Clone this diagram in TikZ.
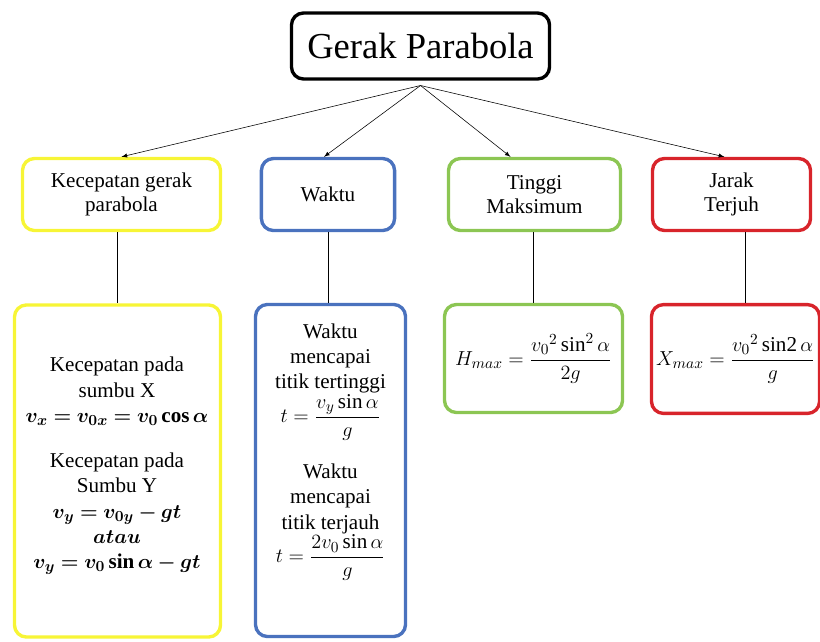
\documentclass[tikz,border=0pt]{standalone}
\usepackage{amsmath}
\usepackage{fontspec}
\setmainfont{Liberation Serif}
\usepackage{bm}
\definecolor{kuning}{HTML}{F7F536}
\definecolor{biru}{HTML}{4A72BE}
\definecolor{hijau}{HTML}{8CC653}
\definecolor{merah}{HTML}{D8242B}
\begin{document}
\begin{tikzpicture}[>=latex, x=0.025cm, y=-0.025cm,
  kotak/.style={draw, line width=2.4pt, rounded corners=0.3cm, align=center, font=\fontsize{15}{17.5}\selectfont},
  teks/.style={align=center, font=\fontsize{15}{18}\selectfont}]
\useasboundingbox (0,0) rectangle (820,641);
\node[kotak, draw=black, minimum width=6.45cm, minimum height=1.65cm, font=\fontsize{26}{30}\selectfont] (judul) at (420.5,46) {Gerak Parabola};
\coordinate (pusat) at ([yshift=-0.12cm]judul.south);

\node[kotak, draw=kuning, minimum width=4.95cm, minimum height=1.8cm] (kec) at (121.5,194.5) {Kecepatan gerak\\parabola};
\node[kotak, draw=biru, minimum width=3.33cm, minimum height=1.8cm] (waktu) at (328,194.5) {Waktu};
\node[kotak, draw=hijau, minimum width=4.3cm, minimum height=1.8cm] (tinggi) at (534.5,194.5) {Tinggi\\Maksimum};
\node[kotak, draw=merah, minimum width=3.95cm, minimum height=1.8cm] (jarak) at (731.5,194.5) {Jarak\\Terjuh};

\draw[->] (pusat)--(kec.north);
\draw[->] (pusat)--([xshift=-0.1cm]waktu.north);
\draw[->] (pusat)--([xshift=-0.6cm]tinggi.north);
\draw[->] (pusat)--([xshift=-0.18cm]jarak.north);

\node[kotak, draw=kuning, minimum width=5.15cm, minimum height=8.3cm] (kecisi) at (117.5,471) {};
\node[kotak, draw=biru, minimum width=3.75cm, minimum height=8.3cm] (waktuisi) at (330.5,470.5) {};
\node[kotak, draw=hijau, minimum width=4.45cm, minimum height=2.7cm] (tinggiisi) at (533.5,358.5) {$H_{max}=\dfrac{{v_0}^2\sin^2\alpha}{2g}$};
\node[kotak, draw=merah, minimum width=4.05cm, minimum height=2.72cm] (jarakisi) at (735.5,359) {$X_{max}=\dfrac{{v_0}^2\,\mathrm{sin2}\,\alpha}{g}$};

\node[teks] (kecteks) at (117,466) {Kecepatan pada\\sumbu X\\$\bm{v_x=v_{0x}=v_0\cos\alpha}$\\[0.5cm]Kecepatan pada\\Sumbu Y\\$\bm{v_y=v_{0y}-gt}$\\$\bm{atau}$\\$\bm{v_y=v_0\sin\alpha-gt}$};
\node[teks] (waktuteks) at (330.5,452) {Waktu\\mencapai\\titik tertinggi\\$t=\dfrac{v_y\sin\alpha}{g}$\\[0.55cm]Waktu\\mencapai\\titik terjauh\\$t=\dfrac{2v_0\sin\alpha}{g}$};

\draw (kec.south -| kecisi.north)--(kecisi.north);
\draw (waktu.south)--(waktu.south |- waktuisi.north);
\draw (tinggiisi.north |- tinggi.south)--(tinggiisi.north);
\draw ([xshift=0.24cm]jarakisi.north |- jarak.south)--([xshift=0.24cm]jarakisi.north);
\end{tikzpicture}
\end{document}
